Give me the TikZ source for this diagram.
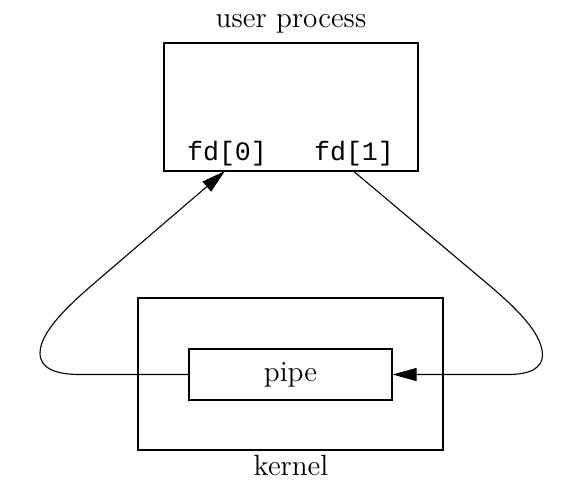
\documentclass[tikz,border=0pt]{standalone}
\usepackage{fontspec}
\setmonofont{Liberation Mono}
\usetikzlibrary{arrows.meta}
\begin{document}
\begin{tikzpicture}[x=0.5pt,y=-0.5pt,
  box/.style={draw, line width=0.6pt, inner sep=0pt, rectangle},
  lbl/.style={font=\fontsize{14.6}{17}\selectfont, inner sep=0pt},
  fdlbl/.style={font=\fontsize{13.3}{16}\selectfont\ttfamily, inner sep=0pt},
  conn/.style={line width=0.55pt, -{Triangle[length=12pt,width=6.5pt]}}]
\useasboundingbox (0,0) rectangle (572,500);
\node[box, minimum width=127pt, minimum height=64pt] (user) at (291,107) {};
\node[box, minimum width=152.5pt, minimum height=76pt] (kernel) at (290.5,374) {};
\node[box, minimum width=101.5pt, minimum height=25.5pt, lbl] (pipe) at (290.5,374.5) {pipe};
\node[lbl] (ulab) at (291,24) {user process};
\node[lbl] (klab) at (291,465) {kernel};
\node[fdlbl] (fd0) at (227,154) {fd[0]};
\node[fdlbl] (fd1) at (354,154) {fd[1]};
\coordinate (c0) at (225,171);
\coordinate (c1) at (fd1 |- user.south);
\draw[conn] (pipe.west) -- (80,374.5) .. controls (55,374.5) and (40,368) .. (40,353)
  .. controls (40,330) and (75.2,299.5) .. (98,280) -- (c0);
\draw[conn] (c1) -- (483,280) .. controls (505.9,299.4) and (542.5,330) .. (542.5,355)
  .. controls (542.5,368) and (530,374.5) .. (508,374.5) -- (pipe.east);
\end{tikzpicture}
\end{document}
